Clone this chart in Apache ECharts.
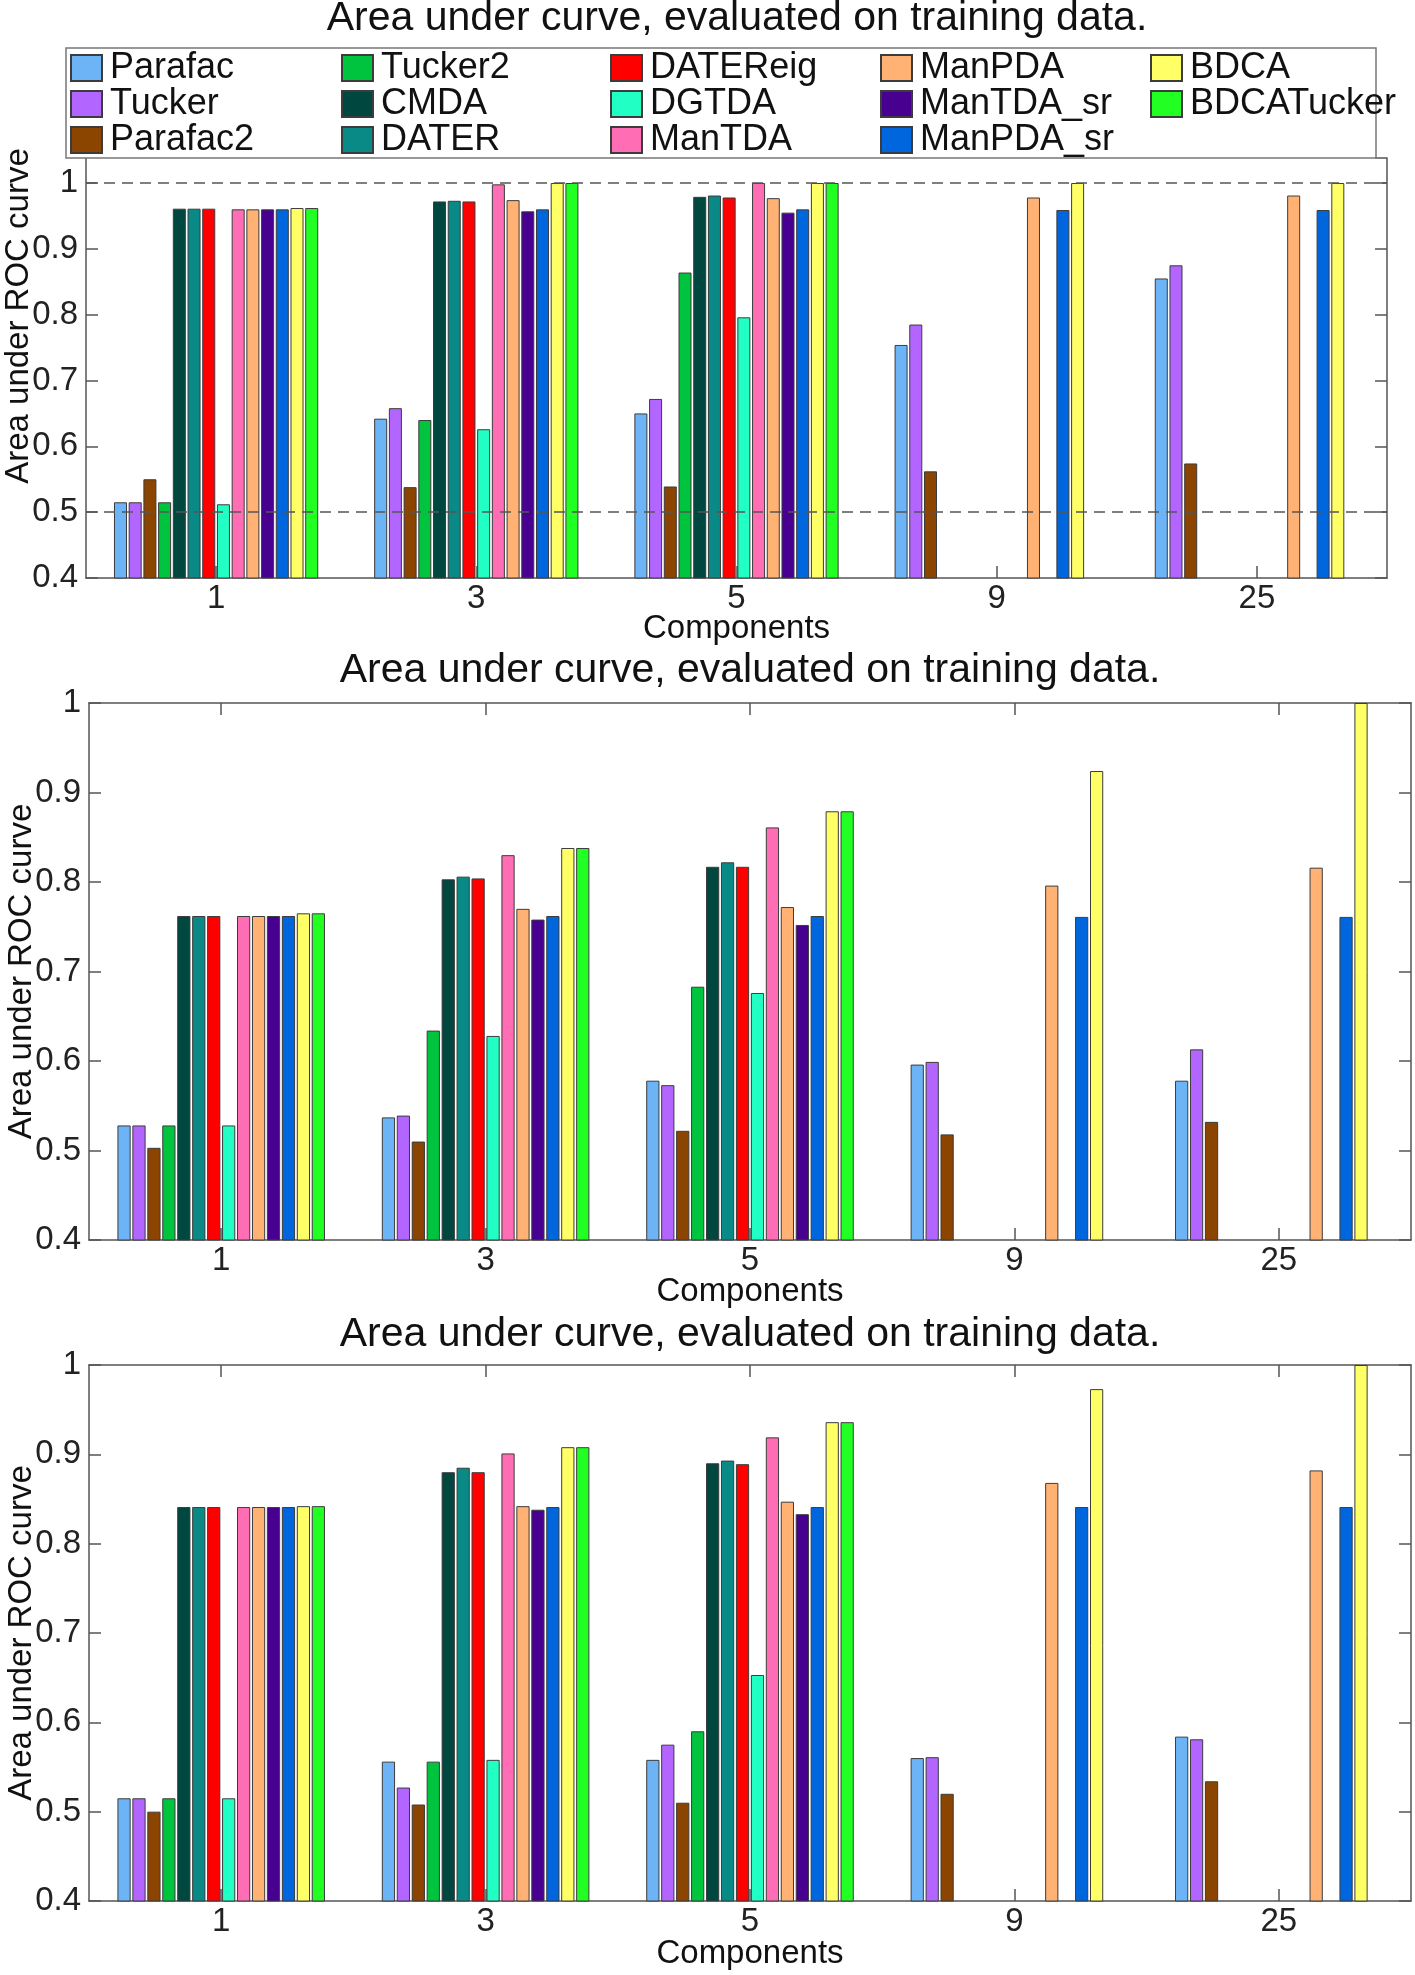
<!DOCTYPE html>
<html>
<head>
<meta charset="utf-8">
<script src="https://cdn.jsdelivr.net/npm/echarts@6/dist/echarts.min.js"></script>
<style>
html,body{margin:0;padding:0;background:#fff;}
#c{width:1415px;height:1975px;}
</style>
</head>
<body>
<div id="c"></div>
<script>
// ---------------- data ----------------
const categories = ['1', '3', '5', '9', '25'];
const methods = ['Parafac', 'Tucker', 'Parafac2', 'Tucker2', 'CMDA', 'DATER', 'DATEReig',
                 'DGTDA', 'ManTDA', 'ManPDA', 'ManTDA_sr', 'ManPDA_sr', 'BDCA', 'BDCATucker'];
const methodColors = ['#6cb4f6', '#b266ff', '#8b4500', '#00c43d', '#004740', '#0a8a87', '#ff0000',
                      '#22ffc4', '#ff6eb4', '#ffb273', '#480090', '#0066dd', '#ffff66', '#22ff22'];
const panelTitles = ['Area under curve, evaluated on training data.',
                     'Area under curve, evaluated on training data.',
                     'Area under curve, evaluated on training data.'];
const xAxisTitle = 'Components';
const yAxisTitle = 'Area under ROC curve';
const yMin = 0.4;
const yStep = 0.1;
const yMaxPerPanel = [1.038, 1, 1];
const refLinesPanel1 = [1, 0.5];

// rows follow `methods`, columns follow `categories`
const aucPanel1 = [
  [0.515, 0.642, 0.650, 0.754, 0.855], // Parafac
  [0.515, 0.658, 0.672, 0.785, 0.875], // Tucker
  [0.550, 0.538, 0.539, 0.562, 0.574], // Parafac2
  [0.515, 0.640, 0.864, null, null],   // Tucker2
  [0.961, 0.972, 0.979, null, null],   // CMDA
  [0.961, 0.973, 0.981, null, null],   // DATER
  [0.961, 0.972, 0.978, null, null],   // DATEReig
  [0.512, 0.626, 0.796, null, null],   // DGTDA
  [0.960, 0.998, 1.000, null, null],   // ManTDA
  [0.960, 0.974, 0.977, 0.978, 0.981], // ManPDA
  [0.960, 0.957, 0.955, null, null],   // ManTDA_sr
  [0.960, 0.960, 0.960, 0.959, 0.959], // ManPDA_sr
  [0.962, 1.000, 1.000, 1.000, 1.000], // BDCA
  [0.962, 1.000, 1.000, null, null]    // BDCATucker
];
const aucPanel2 = [
  [0.528, 0.537, 0.578, 0.596, 0.578], // Parafac
  [0.528, 0.539, 0.573, 0.599, 0.613], // Tucker
  [0.503, 0.510, 0.522, 0.518, 0.532], // Parafac2
  [0.528, 0.634, 0.683, null, null],   // Tucker2
  [0.762, 0.803, 0.817, null, null],   // CMDA
  [0.762, 0.806, 0.822, null, null],   // DATER
  [0.762, 0.804, 0.817, null, null],   // DATEReig
  [0.528, 0.628, 0.676, null, null],   // DGTDA
  [0.762, 0.830, 0.861, null, null],   // ManTDA
  [0.762, 0.770, 0.772, 0.796, 0.816], // ManPDA
  [0.762, 0.758, 0.752, null, null],   // ManTDA_sr
  [0.762, 0.762, 0.762, 0.761, 0.761], // ManPDA_sr
  [0.765, 0.838, 0.879, 0.924, 1.000], // BDCA
  [0.765, 0.838, 0.879, null, null]    // BDCATucker
];
const aucPanel3 = [
  [0.515, 0.556, 0.558, 0.560, 0.584], // Parafac
  [0.515, 0.527, 0.575, 0.561, 0.581], // Tucker
  [0.500, 0.508, 0.510, 0.520, 0.534], // Parafac2
  [0.515, 0.556, 0.590, null, null],   // Tucker2
  [0.841, 0.880, 0.890, null, null],   // CMDA
  [0.841, 0.885, 0.893, null, null],   // DATER
  [0.841, 0.880, 0.889, null, null],   // DATEReig
  [0.515, 0.558, 0.653, null, null],   // DGTDA
  [0.841, 0.901, 0.919, null, null],   // ManTDA
  [0.841, 0.842, 0.847, 0.868, 0.882], // ManPDA
  [0.841, 0.838, 0.833, null, null],   // ManTDA_sr
  [0.841, 0.841, 0.841, 0.841, 0.841], // ManPDA_sr
  [0.842, 0.908, 0.936, 0.973, 1.000], // BDCA
  [0.842, 0.908, 0.936, null, null]    // BDCATucker
];
const panels = [aucPanel1, aucPanel2, aucPanel3];

// ---------------- layout / style ----------------
const FONT = '"Liberation Sans", Arial, Helvetica, sans-serif';
const AXIS_COLOR = '#555';
const grids = [
  {left: 86, right: 28, top: 158, bottom: 1397, outerBoundsMode: 'none', containLabel: false},
  {left: 89, right: 4, top: 703, bottom: 735, outerBoundsMode: 'none', containLabel: false},
  {left: 89, right: 4, top: 1365, bottom: 74, outerBoundsMode: 'none', containLabel: false}
];
const titlePos = [[737, 19], [750, 671], [750, 1335]];
const xNameGap = [34, 35, 36];

const xAxes = [], yAxes = [], series = [];
grids.forEach((g, p) => {
  const lineStyle = {color: AXIS_COLOR, width: 1.5};
  xAxes.push({
    type: 'category', gridIndex: p, position: 'bottom', data: categories,
    axisLine: {show: true, lineStyle},
    axisTick: {show: true, inside: true, alignWithLabel: true, length: 12, lineStyle},
    axisLabel: {show: true, fontSize: 33, color: '#222', margin: 4, fontFamily: FONT, lineHeight: 33},
    splitLine: {show: false},
    name: xAxisTitle, nameLocation: 'middle', nameGap: xNameGap[p], nameMoveOverlap: false,
    nameTextStyle: {fontSize: 33, color: '#111', fontFamily: FONT, lineHeight: 33}
  });
  xAxes.push({
    type: 'category', gridIndex: p, position: 'top', data: categories,
    show: p !== 0,
    axisLine: {show: true, lineStyle},
    axisTick: {show: true, inside: true, alignWithLabel: true, length: 12, lineStyle},
    axisLabel: {show: false}, splitLine: {show: false}
  });
  yAxes.push({
    type: 'value', gridIndex: p, position: 'left', min: yMin, max: yMaxPerPanel[p], interval: yStep,
    axisLine: {show: true, lineStyle},
    axisTick: {show: true, inside: true, length: 12, lineStyle},
    axisLabel: {show: true, fontSize: 33, color: '#222', margin: 8, fontFamily: FONT,
                showMaxLabel: p !== 0},
    splitLine: {show: false},
    name: yAxisTitle, nameLocation: 'middle', nameGap: 51, nameMoveOverlap: false,
    nameTextStyle: {fontSize: 33, color: '#111', fontFamily: FONT, lineHeight: 33,
                    padding: p === 0 ? [0, 0, 0, 104] : 0}
  });
  yAxes.push({
    type: 'value', gridIndex: p, position: 'right', min: yMin, max: yMaxPerPanel[p], interval: yStep,
    axisLine: {show: true, lineStyle},
    axisTick: {show: true, inside: true, length: 12, lineStyle},
    axisLabel: {show: false}, splitLine: {show: false}
  });
  methods.forEach((m, j) => {
    const s = {
      type: 'bar', name: m, xAxisIndex: 2 * p, yAxisIndex: 2 * p,
      data: panels[p][j],
      barGap: '13%', barCategoryGap: '21.5%',
      itemStyle: {color: methodColors[j], borderColor: '#3c3c3c', borderWidth: 1},
      emphasis: {disabled: true},
      animation: false
    };
    if (p === 0 && j === 0) {
      s.markLine = {
        silent: true, symbol: ['none', 'none'], label: {show: false},
        lineStyle: {type: [11, 7], color: '#555', width: 1.5},
        data: refLinesPanel1.map(v => ({yAxis: v})),
        animation: false
      };
    }
    series.push(s);
  });
});

// legend: 5 columns x 3 rows (column-major, like MATLAB)
const legendColX = [70, 341, 610, 880, 1150];
const legends = legendColX.map((x, k) => ({
  orient: 'vertical', left: x, top: 50, padding: 0, itemGap: 0,
  itemWidth: 31, itemHeight: 26, icon: 'rect', z: 60,
  selectedMode: false,
  data: methods.slice(3 * k, 3 * k + 3),
  textStyle: {fontSize: 36, color: '#111', fontFamily: FONT, lineHeight: 36, padding: [0, 0, 0, 3]}
}));

const graphics = [
  {type: 'rect', z: 50, silent: true,
   shape: {x: 66, y: 48, width: 1310, height: 110},
   style: {fill: '#fff', stroke: '#777', lineWidth: 1.5}}
];
titlePos.forEach((pos, p) => {
  graphics.push({
    type: 'text', x: pos[0], y: pos[1], z: 60, silent: true,
    style: {text: panelTitles[p], fontSize: 41, fontFamily: FONT, fill: '#111',
            textAlign: 'center', textVerticalAlign: 'middle'}
  });
});

const chart = echarts.init(document.getElementById('c'));
chart.setOption({
  animation: false,
  backgroundColor: '#fff',
  textStyle: {fontFamily: FONT},
  grid: grids,
  xAxis: xAxes,
  yAxis: yAxes,
  legend: legends,
  graphic: graphics,
  series: series
});
</script>
</body>
</html>
